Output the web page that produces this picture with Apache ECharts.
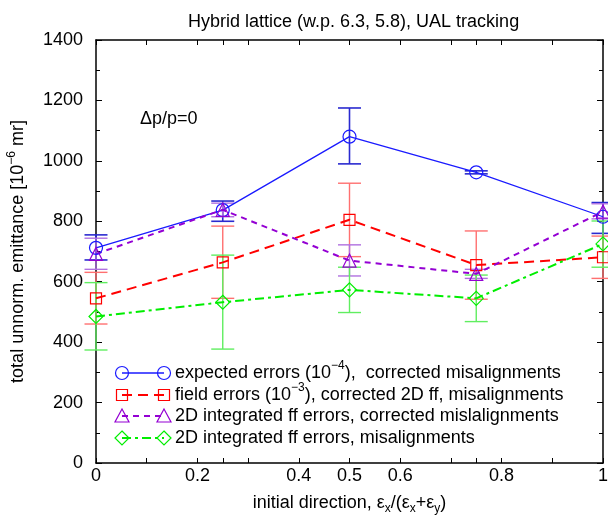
<!DOCTYPE html>
<html>
<head>
<meta charset="utf-8">
<script src="https://cdn.jsdelivr.net/npm/echarts@6/dist/echarts.min.js"></script>
<style>
  html, body { margin: 0; padding: 0; background: #fff; }
  #main { width: 608px; height: 517px; }
</style>
</head>
<body>
<div id="main"></div>
<script>
// initial direction ex/(ex+ey)
var xs = [0, 0.25, 0.5, 0.75, 1];

// expected errors (1e-4), corrected misalignments
var expVal = [712, 837, 1080, 962, 815];
var expLo  = [672, 800, 990, 957, 760];
var expHi  = [755, 867, 1175, 967, 862];

// field errors (1e-3), corrected 2D ff, misalignments
var fieldVal = [545, 664, 805, 655, 681];
var fieldLo  = [460, 545, 683, 542, 611];
var fieldHi  = [631, 784, 926, 768, 751];

// 2D integrated ff errors, corrected mislalignments
var ffCorrVal = [692, 838, 670, 626, 832];
var ffCorrLo  = [641, 815, 619, 611, 808];
var ffCorrHi  = [744, 860, 722, 641, 858];

// 2D integrated ff errors, misalignments
var ffVal = [485, 532, 573, 545, 725];
var ffLo  = [374, 377, 498, 468, 648];
var ffHi  = [597, 688, 648, 622, 801];

var xTicks = [0, 0.1, 0.2, 0.25, 0.3, 0.4, 0.5, 0.6, 0.7, 0.75, 0.8, 0.9, 1];
var xLabels = [0, 0.2, 0.4, 0.5, 0.6, 0.8, 1];

var FONT = 'Liberation Sans';
var FS = 18;

var chart = echarts.init(document.getElementById('main'));

function pts(val) {
  return xs.map(function (x, i) { return [x, val[i]]; });
}
function errPts(lo, hi) {
  return xs.map(function (x, i) { return [x, lo[i], hi[i]]; });
}
function errRender(color, width) {
  return function (params, api) {
    var x = api.value(0);
    var a = api.coord([x, api.value(1)]);
    var b = api.coord([x, api.value(2)]);
    var w = 11.5;
    var st = { stroke: color, lineWidth: width };
    return {
      type: 'group',
      children: [
        { type: 'line', shape: { x1: a[0], y1: a[1], x2: b[0], y2: b[1] }, style: st },
        { type: 'line', shape: { x1: a[0] - w, y1: a[1], x2: a[0] + w, y2: a[1] }, style: st },
        { type: 'line', shape: { x1: b[0] - w, y1: b[1], x2: b[0] + w, y2: b[1] }, style: st }
      ]
    };
  };
}

var cBlue = '#1a1aff', cRed = '#ff0000', cPurple = '#9400d3', cGreen = '#00ee00';

function lineSeries(val, color, symbol, size, type, width) {
  return {
    type: 'line',
    data: pts(val),
    symbol: symbol,
    symbolSize: size,
    lineStyle: { color: color, width: width, type: type },
    itemStyle: { color: 'rgba(0,0,0,0)', borderColor: color, borderWidth: 1.2 },
    emphasis: { disabled: true },
    z: 3
  };
}
function errSeries(lo, hi, color, width) {
  return {
    type: 'custom',
    data: errPts(lo, hi),
    renderItem: errRender(color, width),
    encode: { x: 0, y: [1, 2] },
    clip: false,
    z: 2
  };
}

// legend drawn as graphic rows
var legendRows = [
  { color: cBlue, dash: 'solid', sym: 'circle', width: 1.3,
    text: 'expected errors (10{sup|−4}),  corrected misalignments' },
  { color: cRed, dash: [10, 6], sym: 'rect', width: 2,
    text: 'field errors (10{sup|−3}), corrected 2D ff, misalignments' },
  { color: cPurple, dash: [6, 5], sym: 'triangle', width: 2,
    text: '2D integrated ff errors, corrected mislalignments' },
  { color: cGreen, dash: [9, 4, 3, 4], sym: 'diamond', width: 2,
    text: '2D integrated ff errors, misalignments' }
];
function symShape(sym, cx, cy, color) {
  var st = { fill: 'none', stroke: color, lineWidth: 1.2 };
  if (sym === 'circle') return { type: 'circle', shape: { cx: cx, cy: cy, r: 6.5 }, style: st };
  if (sym === 'rect') return { type: 'rect', shape: { x: cx - 5.5, y: cy - 5.5, width: 11, height: 11 }, style: st };
  if (sym === 'triangle') return { type: 'polygon', shape: { points: [[cx, cy - 7], [cx + 7, cy + 6], [cx - 7, cy + 6]] }, style: st };
  return { type: 'polygon', shape: { points: [[cx, cy - 7], [cx + 7, cy], [cx, cy + 7], [cx - 7, cy]] }, style: st };
}
var legendY = [373, 395, 416, 438];
var graphics = [];
legendRows.forEach(function (r, i) {
  var y = legendY[i];
  graphics.push({ type: 'line', shape: { x1: 122, y1: y, x2: 164, y2: y },
    style: { stroke: r.color, lineWidth: r.width, lineDash: r.dash === 'solid' ? null : r.dash } });
  graphics.push(symShape(r.sym, 122, y, r.color));
  graphics.push(symShape(r.sym, 164, y, r.color));
  graphics.push({ type: 'text', x: 175, y: y, style: {
    text: r.text, fill: '#000', font: FS + 'px ' + FONT, lineHeight: 26, verticalAlign: 'middle',
    rich: { sup: { fontSize: 12, fontFamily: FONT, verticalAlign: 'top', lineHeight: 12 } }
  } });
});
graphics.push({ type: 'text', x: 140, y: 119, style: {
  text: 'Δp/p=0', fill: '#000', font: FS + 'px ' + FONT, verticalAlign: 'middle' } });

var axisLineStyle = { color: '#000', width: 1.5 };
var tickStyle = { color: '#000', width: 1 };

var option = {
  animation: false,
  title: {
    text: 'Hybrid lattice (w.p. 6.3, 5.8), UAL tracking',
    left: 183, top: 8,
    textStyle: { fontFamily: FONT, fontSize: FS, fontWeight: 'normal', color: '#000' }
  },
  grid: { left: 96, right: 5, top: 40, bottom: 54, outerBoundsMode: 'none', containLabel: false },
  xAxis: [
    {
      type: 'value', min: 0, max: 1, position: 'bottom',
      axisLine: { onZero: false, lineStyle: axisLineStyle },
      axisTick: { inside: true, length: 5, customValues: xTicks, lineStyle: tickStyle },
      axisLabel: { customValues: xLabels, color: '#000', fontFamily: FONT, fontSize: FS, margin: 4 },
      splitLine: { show: false },
      name: 'initial direction, ε{sub|x}/(ε{sub|x}+ε{sub|y})',
      nameLocation: 'middle', nameGap: 28,
      nameTextStyle: {
        color: '#000', fontFamily: FONT, fontSize: FS,
        rich: { sub: { fontSize: 12, fontFamily: FONT, verticalAlign: 'bottom', padding: [12, 0, 0, 0] } }
      }
    },
    {
      type: 'value', min: 0, max: 1, position: 'top',
      axisLine: { onZero: false, lineStyle: axisLineStyle },
      axisTick: { inside: true, length: 5, customValues: xTicks, lineStyle: tickStyle },
      axisLabel: { show: false },
      splitLine: { show: false }
    }
  ],
  yAxis: [
    {
      type: 'value', min: 0, max: 1400, interval: 200, position: 'left',
      axisLine: { show: true, onZero: false, lineStyle: axisLineStyle },
      axisTick: { show: true, inside: true, length: 6, lineStyle: tickStyle },
      minorTick: { show: true, splitNumber: 2, length: 4, lineStyle: tickStyle },
      axisLabel: { color: '#000', fontFamily: FONT, fontSize: FS, margin: 13,
        formatter: function (v) { return String(v); } },
      splitLine: { show: false },
      name: 'total unnorm. emittance [10{sup|−6} mr]',
      nameLocation: 'middle', nameGap: 66, nameRotate: 90,
      nameTextStyle: {
        color: '#000', fontFamily: FONT, fontSize: FS,
        rich: { sup: { fontSize: 12, fontFamily: FONT, verticalAlign: 'top', padding: [0, 0, 12, 0] } }
      }
    },
    {
      type: 'value', min: 0, max: 1400, interval: 200, position: 'right',
      axisLine: { show: true, onZero: false, lineStyle: axisLineStyle },
      axisTick: { show: true, inside: true, length: 6, lineStyle: tickStyle },
      minorTick: { show: true, splitNumber: 2, length: 4, lineStyle: tickStyle },
      axisLabel: { show: false },
      splitLine: { show: false }
    }
  ],
  graphic: graphics,
  series: [
    errSeries(expLo, expHi, '#2a2ad0', 1.6),
    lineSeries(expVal, cBlue, 'circle', 13, 'solid', 1.3),
    errSeries(fieldLo, fieldHi, '#ff7070', 1.4),
    lineSeries(fieldVal, cRed, 'rect', 11, [10, 6], 2),
    errSeries(ffCorrLo, ffCorrHi, '#b070e0', 1.4),
    lineSeries(ffCorrVal, cPurple, 'triangle', 13, [6, 5], 2),
    errSeries(ffLo, ffHi, '#60ee60', 1.4),
    lineSeries(ffVal, cGreen, 'diamond', 14, [9, 4, 3, 4], 2)
  ]
};
chart.setOption(option);
</script>
</body>
</html>
